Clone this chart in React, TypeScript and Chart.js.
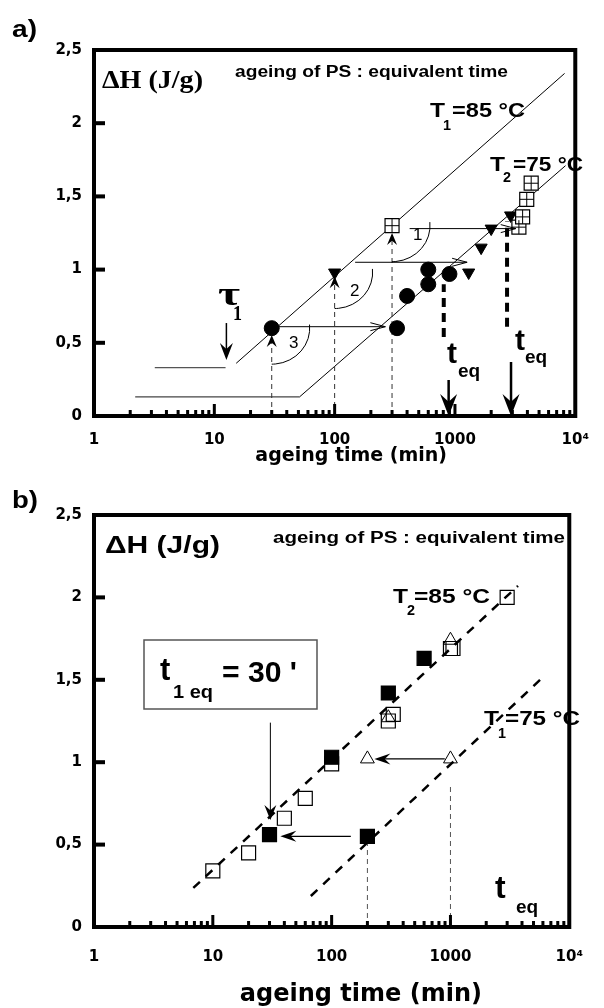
import { useEffect, useRef } from "react";
import { Chart, registerables } from "chart.js";
Chart.register(...registerables);

// ---------- axes ----------
const decadeTicks = [1, 10, 100, 1000, 10000];
const decadeLabels = ["1", "10", "100", "1000", "10\u2074"];
const minorMultipliers = [2, 3, 4, 5, 6, 7, 8, 9];
const yTickValues = [0, 0.5, 1, 1.5, 2, 2.5];
const yTickLabels = ["0", "0,5", "1", "1,5", "2", "2,5"];
const xAxisTitle = "ageing time (min)";

// ---------- panel a data ----------
const aCircleTimes = [30, 330, 400, 600, 600, 900];
const aCircleDH = [0.6, 0.6, 0.82, 0.9, 1.0, 0.97];
const aTriangleTimes = [100, 1300, 1650, 2000, 2900];
const aTriangleDH = [0.98, 0.98, 1.15, 1.28, 1.37];
const aGridSquareTimes = [300, 3400, 3650, 3950, 4300];
const aGridSquareDH = [1.3, 1.29, 1.36, 1.48, 1.59];
const aT1Times = [15.2, 8150];
const aT1DH = [0.36, 2.34];
const aT1PlateauTimes = [3.2, 12.4];
const aT1PlateauDH = [0.33, 0.33];
const aT2PlateauTimes = [2.2, 51];
const aT2PlateauDH = [0.13, 0.13];
const aT2Times = [51, 8300];
const aT2DH = [0.13, 1.71];
const aGuideTimes = [30, 100, 300];
const aGuidePointDH = [0.6, 0.98, 1.3];
const aGuideTops = [0.553, 0.955, 1.25];
const aTeqTimes = [807, 2710];
const aTeqBottoms = [0.54, 0.61];
const aTeqTops = [0.9, 1.33];
const aShiftFrom = [30, 148, 420];
const aShiftTo = [264, 1262, 3200];
const aShiftDH = [0.61, 1.05, 1.28];
const aTeqArrowTimes = [886, 2924];
const aTeqArrowTops = [0.246, 0.369];
const aTauTime = 12.6;
const aTauDH = [0.635, 0.383];

// ---------- panel b data ----------
const bOpenSquareTimes = [10, 20, 40, 60, 100, 300, 330, 1000, 1050, 3000];
const bOpenSquareDH = [0.34, 0.45, 0.66, 0.78, 0.99, 1.25, 1.29, 1.69, 1.69, 2.0];
const bFilledSquareTimes = [30, 100, 200, 300, 600];
const bFilledSquareDH = [0.56, 1.03, 0.55, 1.42, 1.63];
const bTriangleTimes = [200, 1000, 300, 1000];
const bTriangleDH = [1.02, 1.02, 1.27, 1.74];
const bT2Times = [6.85, 3700];
const bT2DH = [0.237, 2.07];
const bT1Times = [66.8, 6020];
const bT1DH = [0.188, 1.517];
const bGuideTimes = [200, 1000];
const bGuideTops = [0.51, 0.85];
const bShiftFrom = [145, 896];
const bShiftTo = [37, 229];
const bShiftDH = [0.55, 1.02];
const bBoxArrowTime = 30.5;
const bBoxArrowDH = [1.24, 0.65];

// ---------- helpers ----------
const W = 604;
const SANS = '"Liberation Sans", Arial, Helvetica, sans-serif';
const SERIF = '"Liberation Serif", "Times New Roman", serif';
const TICKF = '"DejaVu Sans", sans-serif';

type Pt = { x: number; y: number };
const zip = (xs: number[], ys: number[]): Pt[] => xs.map((x, i) => ({ x, y: ys[i] }));

const lineDs = (data: Pt[], color: string, width: number, dash: number[] = []) => ({
  data,
  showLine: true,
  borderColor: color,
  borderWidth: width,
  borderDash: dash,
  pointRadius: 0,
  fill: false,
  tension: 0,
});
const markDs = (data: Pt[], style: string, r: number, bg: string, border: string, lw: number, rot = 0) => ({
  data,
  showLine: false,
  pointStyle: style,
  pointRadius: r,
  pointBackgroundColor: bg,
  pointBorderColor: border,
  pointBorderWidth: lw,
  pointRotation: rot,
  backgroundColor: bg,
  borderColor: border,
});

type TextSpec = { s: string; x: number; y: number; size: number; w?: number; family?: string; weight?: string };
type ArrowSpec = { x1: number; y1: number; x2: number; y2: number; kind: "filled" | "open"; len: number; hw: number; lw: number; shaft?: boolean };
type ArcSpec = { x: number; y: number; rx: number; ry: number; a0: number; a1: number };
type BoxSpec = { x: number; y: number; w: number; h: number };

interface PanelSpec {
  height: number;
  padTop: number;
  padRight: number;
  xAxisHeight: number;
  tickPad: number;
  titleSize: number;
  titlePad: number;
  titleText: string;
  datasets: any[];
  texts: TextSpec[];
  arrows: ArrowSpec[];
  arcs: ArcSpec[];
  boxes: BoxSpec[];
}

function fitText(ctx: CanvasRenderingContext2D, t: TextSpec) {
  ctx.save();
  ctx.font = `${t.weight ?? "bold"} ${t.size}px ${t.family ?? SANS}`;
  ctx.textAlign = "left";
  ctx.textBaseline = "alphabetic";
  ctx.fillStyle = "#000";
  const m = ctx.measureText(t.s).width;
  const sx = t.w ? t.w / m : 1;
  ctx.translate(t.x, t.y);
  ctx.scale(sx, 1);
  ctx.fillText(t.s, 0, 0);
  ctx.restore();
}

function drawHead(ctx: CanvasRenderingContext2D, tx: number, ty: number, ang: number, len: number, hw: number, kind: string, lw: number) {
  const dx = Math.cos(ang), dy = Math.sin(ang);
  const nx = -dy, ny = dx;
  const bx = tx - dx * len, by = ty - dy * len;
  ctx.beginPath();
  if (kind === "filled") {
    ctx.moveTo(tx, ty);
    ctx.lineTo(bx + nx * hw, by + ny * hw);
    ctx.lineTo(tx - dx * len * 0.65, ty - dy * len * 0.65);
    ctx.lineTo(bx - nx * hw, by - ny * hw);
    ctx.closePath();
    ctx.fill();
  } else {
    ctx.lineWidth = lw;
    ctx.moveTo(bx + nx * hw, by + ny * hw);
    ctx.lineTo(tx, ty);
    ctx.lineTo(bx - nx * hw, by - ny * hw);
    ctx.stroke();
  }
}

function overlayPlugin(p: PanelSpec) {
  return {
    id: "overlay",
    afterDatasetsDraw(chart: any) {
      const { ctx, chartArea: a, scales } = chart;
      const px = (v: number) => scales.x.getPixelForValue(v);
      const py = (v: number) => scales.y.getPixelForValue(v);
      ctx.save();
      ctx.strokeStyle = "#000";
      ctx.fillStyle = "#000";
      ctx.lineWidth = 1;
      p.arcs.forEach((c) => {
        ctx.beginPath();
        ctx.ellipse(px(c.x), py(c.y), c.rx, c.ry, 0, c.a0, c.a1);
        ctx.stroke();
      });
      p.arrows.forEach((ar) => {
        const x1 = px(ar.x1), y1 = py(ar.y1), x2 = px(ar.x2), y2 = py(ar.y2);
        const ang = Math.atan2(y2 - y1, x2 - x1);
        if (ar.shaft !== false) {
          const back = ar.kind === "filled" ? ar.len * 0.6 : 0;
          ctx.beginPath();
          ctx.lineWidth = ar.lw;
          ctx.moveTo(x1, y1);
          ctx.lineTo(x2 - Math.cos(ang) * back, y2 - Math.sin(ang) * back);
          ctx.stroke();
        }
        drawHead(ctx, x2, y2, ang, ar.len, ar.hw, ar.kind, ar.lw);
      });
      p.boxes.forEach((b) => {
        ctx.lineWidth = 1.5;
        ctx.strokeStyle = "#555";
        ctx.strokeRect(b.x, b.y, b.w, b.h);
      });
      p.texts.forEach((t) => fitText(ctx, t));
      // frame and inward ticks
      ctx.strokeStyle = "#000";
      ctx.fillStyle = "#000";
      ctx.lineWidth = 4;
      ctx.strokeRect(a.left, a.top, a.right - a.left, a.bottom - a.top);
      decadeTicks.forEach((d) =>
        minorMultipliers.forEach((m) => {
          const v = d * m;
          if (v < 10000) ctx.fillRect(px(v) - 1.5, a.bottom - 6, 3, 6);
        })
      );
      decadeTicks.slice(1, -1).forEach((v) => ctx.fillRect(px(v) - 1.5, a.bottom - 12, 3, 12));
      yTickValues.slice(1, -1).forEach((v) => ctx.fillRect(a.left, py(v) - 2, 11, 4));
      ctx.restore();
    },
  };
}

function buildConfig(p: PanelSpec): any {
  const tickFont = { family: TICKF, weight: "bold", size: 15 };
  // Chart.js paints dataset 0 last; reverse so the listed order is back-to-front
  const datasets = [...p.datasets].reverse();
  return {
    type: "scatter",
    data: { datasets },
    options: {
      animation: false,
      responsive: false,
      devicePixelRatio: 1,
      events: [],
      layout: { padding: { left: 0, top: p.padTop, right: p.padRight, bottom: 0 } },
      plugins: { legend: { display: false }, tooltip: { enabled: false }, title: { display: false } },
      scales: {
        x: {
          type: "logarithmic",
          position: "bottom",
          min: 1,
          max: 10000,
          grid: { display: false, drawTicks: false },
          border: { display: false },
          afterBuildTicks: (s: any) => {
            s.ticks = decadeTicks.map((v) => ({ value: v, major: true }));
          },
          afterFit: (s: any) => {
            s.height = p.xAxisHeight;
          },
          ticks: {
            autoSkip: false,
            maxRotation: 0,
            minRotation: 0,
            padding: p.tickPad,
            color: "#000",
            font: tickFont,
            callback: (_v: any, i: number) => decadeLabels[i] ?? "",
          },
          title: {
            display: true,
            text: p.titleText,
            color: "#000",
            font: { family: TICKF, weight: "bold", size: p.titleSize, lineHeight: 1 },
            padding: { top: 0, bottom: p.titlePad },
          },
        },
        y: {
          type: "linear",
          position: "left",
          min: 0,
          max: 2.5,
          grid: { display: false, drawTicks: false },
          border: { display: false },
          afterBuildTicks: (s: any) => {
            s.ticks = yTickValues.map((v) => ({ value: v }));
          },
          afterFit: (s: any) => {
            s.width = 94;
          },
          ticks: {
            padding: 12,
            color: "#000",
            font: tickFont,
            callback: (_v: any, i: number) => yTickLabels[i] ?? "",
          },
        },
      },
    },
    plugins: [overlayPlugin(p)],
  };
}

// ---------- panel specs ----------
const panelA: PanelSpec = {
  height: 480,
  padTop: 50,
  padRight: 16,
  xAxisHeight: 64,
  tickPad: 15,
  titleSize: 19,
  titlePad: 14.5,
  titleText: "\u00a0\u00a0\u00a0\u00a0\u00a0" + xAxisTitle,
  datasets: [
    lineDs(zip(aT1PlateauTimes, aT1PlateauDH), "#555", 1.2),
    lineDs(zip(aT2PlateauTimes, aT2PlateauDH), "#444", 1.2),
    lineDs(zip(aT1Times, aT1DH), "#000", 1),
    lineDs(zip(aT2Times, aT2DH), "#000", 1),
    ...aGuideTimes.map((t, i) => lineDs([{ x: t, y: 0 }, { x: t, y: aGuideTops[i] - 0.03 }], "#333", 1, [5, 4])),
    ...aTeqTimes.map((t, i) => lineDs([{ x: t, y: aTeqBottoms[i] }, { x: t, y: aTeqTops[i] }], "#000", 4, [9, 6])),
    markDs(zip(aCircleTimes, aCircleDH), "circle", 7.5, "#000", "#000", 1),
    markDs(zip(aTriangleTimes, aTriangleDH), "triangle", 7, "#000", "#000", 1, 180),
    markDs(zip(aGridSquareTimes, aGridSquareDH), "rect", 9.9, "#fff", "#000", 1.2),
    markDs(zip(aGridSquareTimes, aGridSquareDH), "cross", 7, "#000", "#000", 1),
  ],
  texts: [
    { s: "a)", x: 12, y: 37, size: 23, w: 25 },
    { s: "\u0394H (J/g)", x: 102, y: 88, size: 25, family: SERIF, w: 101 },
    { s: "ageing of PS : equivalent time", x: 235, y: 77, size: 16, w: 273 },
    { s: "T", x: 430, y: 117, size: 21, w: 15 },
    { s: "1", x: 443, y: 130, size: 14, w: 8 },
    { s: "=85 \u00b0C", x: 452, y: 117, size: 21, w: 73 },
    { s: "T", x: 490, y: 171, size: 21, w: 15 },
    { s: "2", x: 503, y: 182, size: 14, w: 8 },
    { s: "=75 \u00b0C", x: 513, y: 171, size: 21, w: 70 },
    { s: "\u03c4", x: 218, y: 305, size: 34, family: SERIF, w: 22 },
    { s: "1", x: 233, y: 320, size: 21, family: SERIF, w: 9 },
    { s: "1", x: 413, y: 240, size: 17, weight: "normal" },
    { s: "2", x: 350, y: 296, size: 17, weight: "normal" },
    { s: "3", x: 289, y: 348, size: 17, weight: "normal" },
    { s: "t", x: 447, y: 363, size: 30 },
    { s: "eq", x: 458, y: 377, size: 19 },
    { s: "t", x: 515, y: 350, size: 30 },
    { s: "eq", x: 525, y: 363, size: 19 },
  ],
  arrows: [
    ...aShiftFrom.map((f, i) => ({ x1: f, y1: aShiftDH[i], x2: aShiftTo[i], y2: aShiftDH[i], kind: "open" as const, len: 15, hw: 4, lw: 1 })),
    ...aGuideTimes.map((t, i) => ({ x1: t, y1: aGuideTops[i] - 0.1, x2: t, y2: aGuideTops[i], kind: "filled" as const, len: 12, hw: 5, lw: 1, shaft: false })),
    ...aTeqArrowTimes.map((t, i) => ({ x1: t, y1: aTeqArrowTops[i], x2: t, y2: 0, kind: "filled" as const, len: 22, hw: 8.5, lw: 2.5 })),
    { x1: aTauTime, y1: aTauDH[0], x2: aTauTime, y2: aTauDH[1], kind: "filled", len: 17, hw: 6.5, lw: 1.5 },
  ],
  arcs: aGuideTimes.map((t, i) => ({ x: t, y: aGuidePointDH[i], rx: 38, ry: 36, a0: -0.1, a1: Math.PI / 2 })),
  boxes: [],
};

const panelB: PanelSpec = {
  height: 528,
  padTop: 35,
  padRight: 17,
  xAxisHeight: 81,
  tickPad: 21,
  titleSize: 24,
  titlePad: 1.5,
  titleText: "\u00a0\u00a0\u00a0\u00a0\u00a0\u00a0\u00a0" + xAxisTitle,
  datasets: [
    lineDs(zip(bT2Times, bT2DH), "#000", 2.5, [9, 8]),
    lineDs(zip(bT1Times, bT1DH), "#000", 2.5, [9, 8]),
    ...bGuideTimes.map((t, i) => lineDs([{ x: t, y: 0 }, { x: t, y: bGuideTops[i] }], "#555", 1, [5, 4])),
    markDs(zip(bOpenSquareTimes, bOpenSquareDH), "rect", 9.9, "rgba(255,255,255,0)", "#000", 1.2),
    markDs(zip(bFilledSquareTimes, bFilledSquareDH), "rect", 9.9, "#000", "#000", 1.2),
    markDs(zip(bTriangleTimes, bTriangleDH), "triangle", 8, "rgba(255,255,255,0)", "#000", 1),
  ],
  texts: [
    { s: "b)", x: 12, y: 28, size: 23, w: 26 },
    { s: "\u0394H (J/g)", x: 105, y: 73, size: 23, w: 115 },
    { s: "ageing of PS : equivalent time", x: 273, y: 63, size: 16, w: 292 },
    { s: "T", x: 393, y: 123, size: 21, w: 15 },
    { s: "2", x: 407, y: 135, size: 14, w: 8 },
    { s: "=85 \u00b0C", x: 414, y: 123, size: 21, w: 76 },
    { s: "T", x: 484, y: 245, size: 21, w: 15 },
    { s: "1", x: 498, y: 258, size: 14, w: 8 },
    { s: "=75 \u00b0C", x: 505, y: 245, size: 21, w: 75 },
    { s: "t", x: 495, y: 418, size: 32 },
    { s: "eq", x: 516, y: 433, size: 19 },
    { s: "t", x: 160, y: 200, size: 31 },
    { s: "1 eq", x: 173, y: 218, size: 19, w: 40 },
    { s: "= 30 '", x: 222, y: 202, size: 30, w: 75 },
  ],
  arrows: [
    ...bShiftFrom.map((f, i) => ({ x1: f, y1: bShiftDH[i], x2: bShiftTo[i], y2: bShiftDH[i], kind: "filled" as const, len: 16, hw: 5.5, lw: 1.2 })),
    { x1: bBoxArrowTime, y1: bBoxArrowDH[0], x2: bBoxArrowTime, y2: bBoxArrowDH[1], kind: "filled", len: 15, hw: 6, lw: 1 },
  ],
  arcs: [],
  boxes: [{ x: 144, y: 160, w: 173, h: 69 }],
};

function Panel({ spec }: { spec: PanelSpec }) {
  const ref = useRef<HTMLCanvasElement>(null);
  useEffect(() => {
    const chart = new Chart(ref.current as HTMLCanvasElement, buildConfig(spec));
    return () => chart.destroy();
  }, [spec]);
  return (
    <canvas
      ref={ref}
      width={W}
      height={spec.height}
      style={{ display: "block", width: W, height: spec.height }}
    />
  );
}

export default function App() {
  return (
    <div style={{ position: "absolute", left: 0, top: 0, width: W, height: 1008, background: "#fff", overflow: "hidden" }}>
      <Panel spec={panelA} />
      <Panel spec={panelB} />
    </div>
  );
}
